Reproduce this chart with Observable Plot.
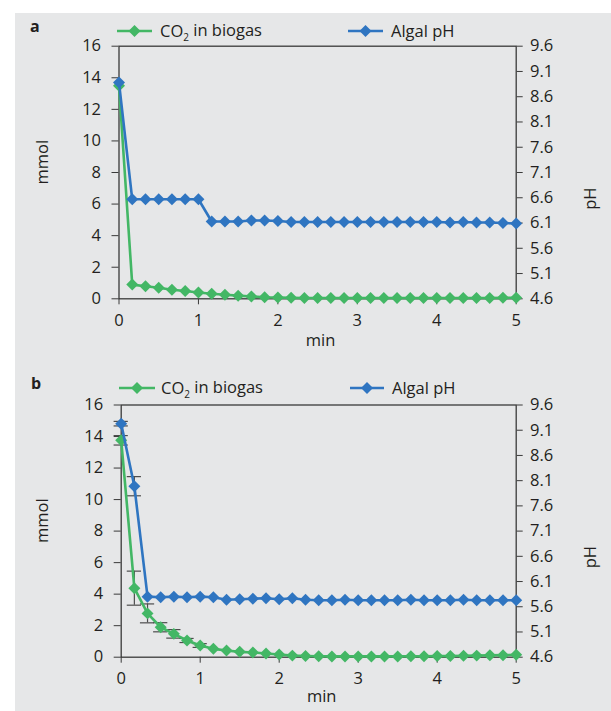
<!DOCTYPE html>
<html>
<head>
<meta charset="utf-8">
<script src="https://cdn.jsdelivr.net/npm/d3@7"></script>
<script src="https://cdn.jsdelivr.net/npm/@observablehq/plot@0.6"></script>
<style>
  html, body { margin: 0; padding: 0; background: #ffffff; }
  #page { position: relative; width: 611px; height: 711px; overflow: hidden; font-family: "Open Sans", sans-serif; color: #231f20; }
  #bg { position: absolute; left: 15px; top: 13px; right: 0; bottom: 0; background: #e6e7e8; }
  .abs { position: absolute; left: 0; }
  .plabel { position: absolute; font-weight: bold; font-size: 16px; }
</style>
</head>
<body>
<div id="page">
  <div id="bg"></div>
  <div class="plabel" style="left:30px;top:15px">a</div>
  <div class="plabel" style="left:31px;top:372px">b</div>
  <svg id="legA" class="abs" style="top:18px" width="611" height="26"></svg>
  <svg id="legB" class="abs" style="top:375px" width="611" height="26"></svg>
  <div id="panelA" class="abs" style="top:36px"></div>
  <div id="panelB" class="abs" style="top:395px"></div>
</div>
<script>
// ---- data ----
const timeSec = [0,10,20,30,40,50,60,70,80,90,100,110,120,130,140,150,160,170,180,190,200,210,220,230,240,250,260,270,280,290,300];

// Panel a
const aCO2 = [13.5,0.9,0.8,0.7,0.57,0.49,0.4,0.32,0.26,0.2,0.15,0.1,0.08,0.06,0.05,0.05,0.05,0.05,0.05,0.05,0.05,0.05,0.05,0.05,0.05,0.05,0.05,0.05,0.05,0.06,0.07];
const aPH  = [8.88,6.57,6.57,6.57,6.57,6.57,6.57,6.13,6.13,6.13,6.15,6.15,6.14,6.12,6.12,6.12,6.12,6.12,6.12,6.12,6.12,6.12,6.12,6.12,6.12,6.11,6.12,6.11,6.11,6.1,6.09];

// Panel b
const bCO2 = [13.76,4.38,2.78,1.9,1.48,1.06,0.74,0.53,0.42,0.34,0.3,0.23,0.17,0.1,0.08,0.06,0.05,0.05,0.05,0.05,0.05,0.05,0.06,0.06,0.07,0.08,0.09,0.1,0.12,0.13,0.15];
const bCO2Err = [0.3,1.08,0.6,0.29,0.27,0.13,0.12,0,0,0,0,0,0,0,0,0,0,0,0,0,0,0,0,0,0,0,0,0,0,0,0];
const bPH  = [9.23,7.99,5.8,5.79,5.8,5.79,5.8,5.79,5.74,5.75,5.76,5.77,5.75,5.77,5.74,5.73,5.73,5.74,5.73,5.73,5.73,5.73,5.74,5.73,5.73,5.73,5.74,5.73,5.73,5.73,5.73];
const bPHErr = [0.045,0.19,0,0,0,0,0,0,0,0,0,0,0,0,0,0,0,0,0,0,0,0,0,0,0,0,0,0,0,0,0];

// axes
const mmolTicks = [0,2,4,6,8,10,12,14,16];
const phTicks = [4.6,5.1,5.6,6.1,6.6,7.1,7.6,8.1,8.6,9.1,9.6];
const minTicks = [0,1,2,3,4,5];
const seriesNames = ["CO\u2082 in biogas", "Algal pH"];

// ---- style ----
const GREEN = "#43b765";
const BLUE = "#2f75c1";
const AXIS = "#3a3a3a";
const ERR = "#4d4d4d";
const FONT = "Open Sans, sans-serif";
const FS = 16.5;

// pH axis spans 4.6..9.6 mapped onto the mmol axis 0..16
const phMin = phTicks[0], phMax = phTicks[phTicks.length - 1];
const mmolMax = mmolTicks[mmolTicks.length - 1];
const phToMmol = p => (p - phMin) * mmolMax / (phMax - phMin);
const mmolToPh = v => v * (phMax - phMin) / mmolMax + phMin;

function rows(co2, ph, co2Err, phErr) {
  return timeSec.map((s, i) => ({
    t: s / 60,
    co2: co2[i],
    ph: ph[i],
    co2Err: co2Err ? co2Err[i] : 0,
    phErr: phErr ? phErr[i] : 0
  }));
}

function panel(data, m) {
  const capHalf = 0.09;
  const co2E = data.filter(d => d.co2Err > 0);
  const phE = data.filter(d => d.phErr > 0);
  return Plot.plot({
    width: 611,
    height: m.height,
    marginLeft: m.left,
    marginRight: m.right,
    marginTop: m.top,
    marginBottom: m.bottom,
    style: { fontFamily: FONT, fontSize: FS + "px", color: "#231f20", background: "transparent", overflow: "visible" },
    x: { domain: [0, 5] },
    y: { domain: [0, mmolMax] },
    marks: [
      Plot.frame({ stroke: AXIS, strokeWidth: 1.3 }),
      Plot.axisY({ ticks: mmolTicks, tickFormat: d => String(d), tickSize: 7, tickPadding: 11, label: null, stroke: AXIS, fontSize: FS }),
      Plot.axisY({
        anchor: "right", ticks: phTicks.map(phToMmol),
        tickFormat: v => mmolToPh(v).toFixed(1),
        tickSize: 6, tickPadding: 31, textAnchor: "end", label: null, stroke: AXIS, fontSize: FS
      }),
      Plot.axisX({ ticks: minTicks, tickFormat: d => String(d), tickSize: 6, tickPadding: 9, label: null, stroke: AXIS, fontSize: FS }),
      Plot.text(["mmol"], { frameAnchor: "left", rotate: -90, dx: m.mmolDx, dy: 12, fontSize: FS }),
      Plot.text(["pH"], { frameAnchor: "right", rotate: -90, dx: 75, dy: 15, fontSize: FS }),
      Plot.text(["min"], { frameAnchor: "bottom", dy: m.minDy, dx: 3, fontSize: FS }),
      // error bars
      Plot.ruleX(co2E, { x: "t", y1: d => d.co2 - d.co2Err, y2: d => d.co2 + d.co2Err, stroke: ERR, strokeWidth: 1.2 }),
      Plot.ruleY(co2E, { y: d => d.co2 + d.co2Err, x1: d => d.t - capHalf, x2: d => d.t + capHalf, stroke: ERR, strokeWidth: 1.2 }),
      Plot.ruleY(co2E, { y: d => d.co2 - d.co2Err, x1: d => d.t - capHalf, x2: d => d.t + capHalf, stroke: ERR, strokeWidth: 1.2 }),
      Plot.ruleX(phE, { x: "t", y1: d => phToMmol(d.ph - d.phErr), y2: d => phToMmol(d.ph + d.phErr), stroke: ERR, strokeWidth: 1.2 }),
      Plot.ruleY(phE, { y: d => phToMmol(d.ph + d.phErr), x1: d => d.t - capHalf, x2: d => d.t + capHalf, stroke: ERR, strokeWidth: 1.2 }),
      Plot.ruleY(phE, { y: d => phToMmol(d.ph - d.phErr), x1: d => d.t - capHalf, x2: d => d.t + capHalf, stroke: ERR, strokeWidth: 1.2 }),
      // CO2 series
      Plot.line(data, { x: "t", y: "co2", stroke: GREEN, strokeWidth: 2.6 }),
      Plot.dot(data, { x: "t", y: "co2", symbol: "diamond2", r: 5.4, fill: GREEN, stroke: "none" }),
      // pH series
      Plot.line(data, { x: "t", y: d => phToMmol(d.ph), stroke: BLUE, strokeWidth: 2.6 }),
      Plot.dot(data, { x: "t", y: d => phToMmol(d.ph), symbol: "diamond2", r: 5.4, fill: BLUE, stroke: "none" })
    ]
  });
}

function legend(svgId, pos) {
  const svg = d3.select("#" + svgId);
  const cy = 13;
  const items = [
    { name: seriesNames[0], color: GREEN, x1: pos[0], x2: pos[1], tx: pos[2] },
    { name: seriesNames[1], color: BLUE, x1: pos[3], x2: pos[4], tx: pos[5] }
  ];
  for (const it of items) {
    svg.append("line").attr("x1", it.x1).attr("x2", it.x2).attr("y1", cy).attr("y2", cy)
      .attr("stroke", it.color).attr("stroke-width", 2.6);
    const cx = (it.x1 + it.x2) / 2, h = 6;
    svg.append("path").attr("d", `M${cx},${cy - h}L${cx + h},${cy}L${cx},${cy + h}L${cx - h},${cy}Z`).attr("fill", it.color);
    const t = svg.append("text").attr("x", it.tx).attr("y", cy).attr("dy", "0.35em")
      .attr("font-family", FONT).attr("font-size", FS).attr("fill", "#231f20");
    if (it.name.startsWith("CO\u2082")) {
      t.append("tspan").text("CO");
      t.append("tspan").attr("font-size", 10).attr("dy", "0.45em").text("2");
      t.append("tspan").attr("dy", "-0.3em").text(" in biogas");
    } else {
      t.text(it.name);
    }
  }
}

document.getElementById("panelA").append(
  panel(rows(aCO2, aPH), { height: 320, top: 9.7, bottom: 57.7, left: 118.5, right: 95.3, mmolDx: -76, minDy: 47 })
);
document.getElementById("panelB").append(
  panel(rows(bCO2, bPH, bCO2Err, bPHErr), { height: 316, top: 9.5, bottom: 54.3, left: 120.7, right: 95.3, mmolDx: -78, minDy: 45 })
);
legend("legA", [117, 152, 160, 348, 383, 391]);
legend("legB", [119, 155, 161, 350, 384, 392]);
</script>
</body>
</html>
